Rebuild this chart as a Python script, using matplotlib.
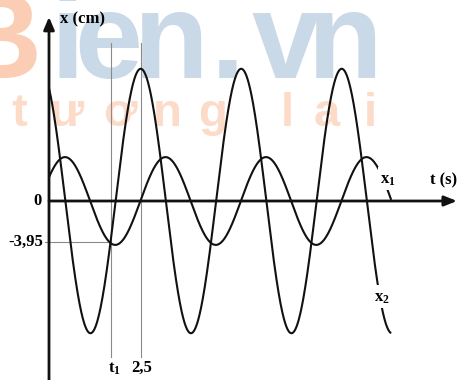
import matplotlib
matplotlib.use("Agg")
import matplotlib.pyplot as plt
import numpy as np
from matplotlib import font_manager

# ---- oscillation data (t in s, x in cm) ----
amplitudes = [4.25, 12.8]          # x1, x2
period = 2.74                       # common period
t_peaks = [0.436, 2.5]              # time of a maximum for x1, x2
t_end = 9.33
t1 = 1.70
t_mark = 2.5
x_level = -3.95
curve_names = [r"$\mathbf{x}_\mathbf{1}$", r"$\mathbf{x}_\mathbf{2}$"]
t_tick_labels = [r"$\mathbf{t}_\mathbf{1}$", "2,5"]
y_tick_labels = ["0", "-3,95"]

# ---- fonts ----
def pick(names):
    for n in names:
        try:
            font_manager.findfont(n, fallback_to_default=False)
            return n
        except Exception:
            continue
    return "DejaVu Sans"

serif = pick(["Liberation Serif", "DejaVu Serif"])
narrow = pick(["Liberation Sans Narrow", "Liberation Sans", "DejaVu Sans"])
plt.rcParams["mathtext.fontset"] = "custom"
plt.rcParams["mathtext.rm"] = serif + ":bold"
plt.rcParams["mathtext.it"] = serif + ":bold"
plt.rcParams["mathtext.bf"] = serif + ":bold"

W, H = 458, 380
fig = plt.figure(figsize=(W / 100, H / 100), dpi=100)
ax = fig.add_axes([0, 0, 1, 1])
ax.set_axis_off()

# axis scaling: origin at pixel (49, 201)
px_s, px_cm = 36.68, 10.33
ox, oy = 49, 201
ax.set_xlim(-ox / px_s, (W - ox) / px_s)
ax.set_ylim(-(H - oy) / px_cm, oy / px_cm)

# ---- faded logo in the background ----
blue = "#cad9e7"
orange_b = "#fbcdb5"
orange = "#fddbc9"
def fp(x, y):
    return x / W, 1 - y / H
ax.text(*fp(-2, 78), "B", fontsize=88, fontweight="bold", family=narrow,
        color=orange_b, ha="center", va="baseline", zorder=0,
        transform=fig.transFigure)
for ch, cx in zip("ien.vn", [67, 108, 171, 228, 286, 345]):
    ax.text(*fp(cx, 78), ch, fontsize=88, fontweight="bold", family=narrow,
            color=blue, ha="center", va="baseline", zorder=0,
            transform=fig.transFigure)
for ch, cx in zip("tươnglai", [19, 66, 120, 167, 213, 287, 327, 370]):
    ax.text(*fp(cx, 126), ch, fontsize=34, fontweight="bold", family=narrow,
            color=orange, ha="center", va="baseline", zorder=0,
            transform=fig.transFigure)

# ---- axes with arrows ----
ink = "#111111"
ax.annotate("", xy=(0, (oy - 17) / px_cm), xytext=(0, -(H - oy) / px_cm),
            arrowprops=dict(arrowstyle="-|>,head_length=0.75,head_width=0.32",
                            lw=2.0, color=ink, shrinkA=0, shrinkB=0,
                            mutation_scale=10), zorder=5)
ax.annotate("", xy=((W - 1 - ox) / px_s, 0), xytext=(0, 0),
            arrowprops=dict(arrowstyle="-|>,head_length=0.75,head_width=0.3",
                            lw=2.0, color=ink, shrinkA=0, shrinkB=0,
                            mutation_scale=10), zorder=5)

# ---- guide lines ----
guide = "#8a8a8a"
y_top, y_bot = (oy - 43) / px_cm, -(357 - oy) / px_cm
for tv in (t1, t_mark):
    ax.plot([tv, tv], [y_bot, y_top], color=guide, lw=0.8, zorder=2)
ax.plot([-4 / px_s, t1], [x_level, x_level], color=guide, lw=0.8, zorder=2)

# ---- the two oscillations ----
t = np.linspace(0, t_end, 1200)
for A, tp in zip(amplitudes, t_peaks):
    ax.plot(t, A * np.cos(2 * np.pi * (t - tp) / period), color=ink,
            lw=1.5, zorder=3, solid_capstyle="butt")

# ---- texts ----
fs = 12
box = dict(boxstyle="square,pad=0.15", fc="white", ec="none")
ax.text(9.24, 2.13, curve_names[0], fontsize=fs, ha="center", va="center",
        bbox=box, zorder=4)
ax.text(9.08, -9.29, curve_names[1], fontsize=fs, ha="center", va="center",
        bbox=box, zorder=4)
ax.text((60 - ox) / px_s, (oy - 19) / px_cm, "x (cm)", fontsize=fs,
        family=serif, fontweight="bold", ha="left", va="center", zorder=4)
ax.text((457 - ox) / px_s, (oy - 180) / px_cm, "t (s)", fontsize=fs,
        family=serif, fontweight="bold", ha="right", va="center", zorder=4)
ax.text(-12 / px_s, 0, y_tick_labels[0], fontsize=fs, family=serif,
        fontweight="bold", ha="center", va="center", zorder=4)
ax.text(-6 / px_s, x_level, y_tick_labels[1], fontsize=fs, family=serif,
        fontweight="bold", ha="right", va="center", zorder=4)
y_lab = -(368 - oy) / px_cm
ax.text(t1 + 0.08, y_lab, t_tick_labels[0], fontsize=fs, ha="center",
        va="center", zorder=4)
ax.text(t_mark + 0.04, y_lab, t_tick_labels[1], fontsize=fs, family=serif,
        fontweight="bold", ha="center", va="center", zorder=4)

fig.savefig("out.png", dpi=100, facecolor="white")
